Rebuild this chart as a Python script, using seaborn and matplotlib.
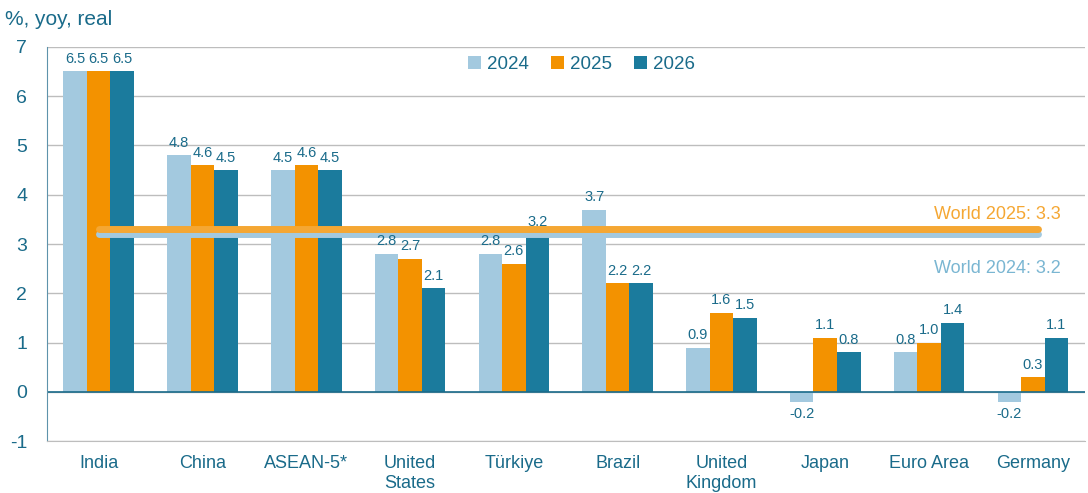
import numpy as np
import pandas as pd
import matplotlib
matplotlib.use("Agg")
import matplotlib.pyplot as plt
import seaborn as sns

countries = ["India", "China", "ASEAN-5*", "United\nStates", "Türkiye", "Brazil",
             "United\nKingdom", "Japan", "Euro Area", "Germany"]
g2024 = [6.5, 4.8, 4.5, 2.8, 2.8, 3.7, 0.9, -0.2, 0.8, -0.2]
g2025 = [6.5, 4.6, 4.6, 2.7, 2.6, 2.2, 1.6, 1.1, 1.0, 0.3]
g2026 = [6.5, 4.5, 4.5, 2.1, 3.2, 2.2, 1.5, 0.8, 1.4, 1.1]
world_2024 = 3.2
world_2025 = 3.3

years = ["2024", "2025", "2026"]
palette = ["#a3c9df", "#f39200", "#1b7b9d"]
teal = "#1a6b8a"

df = pd.DataFrame({"country": countries, "2024": g2024, "2025": g2025, "2026": g2026})
long = df.melt(id_vars="country", var_name="year", value_name="growth")

sns.set_style("white")
plt.rcParams["font.family"] = ["Liberation Sans", "DejaVu Sans"]
plt.rcParams["axes.unicode_minus"] = False

fig = plt.figure(figsize=(10.88, 4.93), dpi=100)
ax = fig.add_axes([0.043, 0.105, 0.954, 0.8])

sns.barplot(data=long, x="country", y="growth", hue="year", hue_order=years,
            palette=palette, width=0.68, saturation=1, ax=ax, legend=True,
            edgecolor="none", linewidth=0)

for cont in ax.containers:
    labels = ax.bar_label(cont, fmt="%.1f", padding=4, fontsize=10.5, color=teal)
    for lb in labels:
        lb.set_zorder(6)

# world averages
xs = np.arange(len(countries))
ax.plot([xs[0], xs[-1] + 0.05], [world_2024, world_2024], color="#a3c9df", lw=5,
        solid_capstyle="round", zorder=4)
ax.plot([xs[0], xs[-1] + 0.05], [world_2025, world_2025], color="#f5a733", lw=5,
        solid_capstyle="round", zorder=4)
ax.text(9.27, 3.6, "World 2025: 3.3", color="#f5a733", fontsize=13, ha="right", va="center")
ax.text(9.27, 2.5, "World 2024: 3.2", color="#7ab6d2", fontsize=13, ha="right", va="center")

ax.set_ylim(-1, 7)
ax.set_xlim(-0.5, 9.5)
ax.set_yticks(range(-1, 8))
ax.yaxis.grid(True, color="#bdbdbd", lw=1)
ax.set_axisbelow(True)
ax.axhline(0, color=teal, lw=1.2, zorder=1)
ax.set_xlabel("")
ax.set_ylabel("")
ax.tick_params(axis="both", length=0, colors=teal)
ax.tick_params(axis="x", pad=10, labelsize=13)
ax.tick_params(axis="y", pad=14, labelsize=14)

ax.spines["top"].set_visible(False)
ax.spines["right"].set_visible(False)
ax.spines["left"].set_color("#5e93ab")
ax.spines["bottom"].set_color("#bdbdbd")

leg = ax.legend(loc="upper center", bbox_to_anchor=(0.515, 1.02), ncol=3, frameon=False,
                fontsize=13.5, handlelength=0.7, handleheight=0.7, handletextpad=0.3,
                columnspacing=1.2)
for t in leg.get_texts():
    t.set_color(teal)

fig.text(0.005, 0.96, "%, yoy, real", fontsize=15, color=teal, ha="left", va="center")

plt.savefig("out.png", dpi=100)
